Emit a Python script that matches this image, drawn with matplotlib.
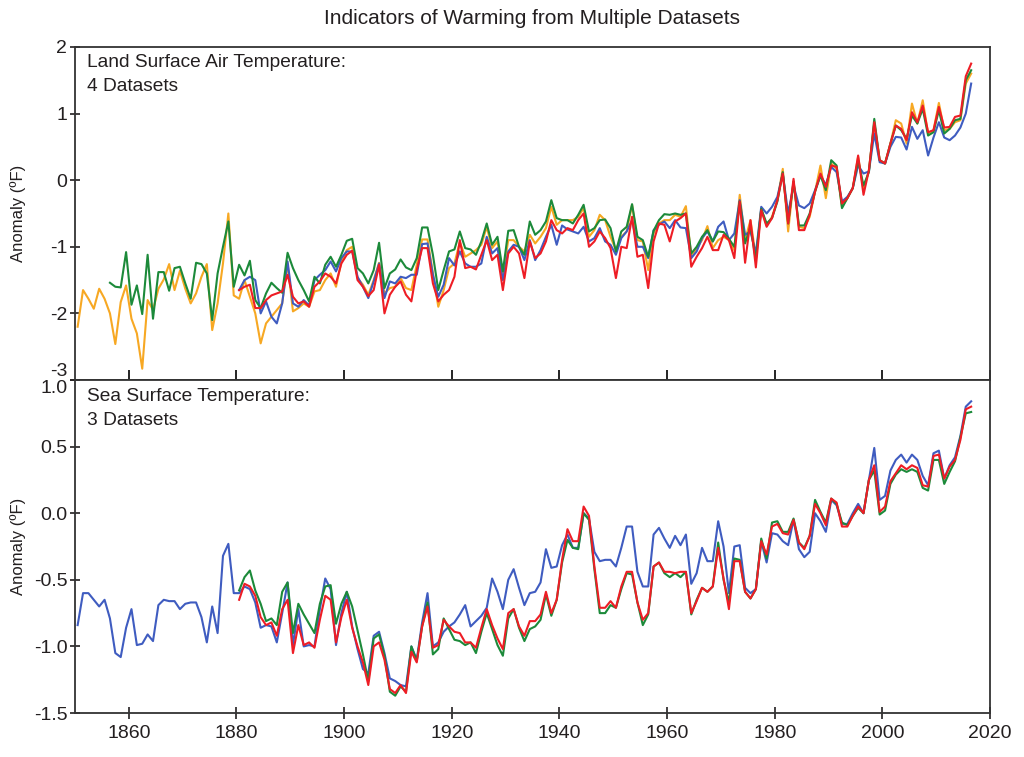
import numpy as np
from matplotlib import pyplot as plt

plt.rcParams['font.family'] = ['Liberation Sans', 'DejaVu Sans']
plt.rcParams['axes.unicode_minus'] = False

# ---- Land surface air temperature anomalies (deg F), 4 datasets ----
land_orange_start = 1850
land_orange = [
    -2.2, -1.65, -1.78, -1.93, -1.63, -1.78, -2.0, -2.46, -1.83, -1.58,
    -2.08, -2.3, -2.83, -1.8, -1.95, -1.63, -1.49, -1.26, -1.65, -1.36,
    -1.63, -1.85, -1.7, -1.45, -1.26, -2.25, -1.85, -1.25, -0.5, -1.73,
    -1.78, -1.5, -1.75, -2.0, -2.45, -2.15, -2.05, -1.95, -1.85, -1.25,
    -1.97, -1.92, -1.85, -1.9, -1.67, -1.65, -1.5, -1.4, -1.6, -1.22,
    -1.05, -1.0, -1.47, -1.57, -1.72, -1.5, -1.24, -1.7, -1.62, -1.6,
    -1.47, -1.62, -1.65, -1.27, -0.89, -0.89, -1.4, -1.9, -1.65, -1.32,
    -1.25, -0.93, -1.15, -1.1, -1.05, -0.97, -0.7, -1.02, -0.92, -1.42,
    -0.9, -0.9, -1.0, -1.07, -0.82, -0.95, -0.85, -0.72, -0.4, -0.67,
    -0.6, -0.6, -0.6, -0.55, -0.42, -0.85, -0.75, -0.52, -0.6, -0.85,
    -1.05, -0.85, -0.77, -0.37, -0.9, -0.92, -1.35, -0.8, -0.65, -0.6,
    -0.6, -0.52, -0.55, -0.39, -1.15, -1.02, -0.9, -0.69, -1.02, -0.9,
    -0.85, -0.9, -1.05, -0.22, -0.9, -0.6, -1.15, -0.43, -0.68, -0.55,
    -0.3, 0.17, -0.77, -0.02, -0.7, -0.72, -0.55, -0.17, 0.22, -0.27,
    0.25, 0.17, -0.4, -0.27, -0.12, 0.35, -0.15, 0.15, 0.85, 0.3,
    0.25, 0.55, 0.9, 0.85, 0.55, 1.15, 0.85, 1.2, 0.7, 0.75,
    1.16, 0.75, 0.77, 0.87, 0.9, 1.45, 1.6]

land_green_start = 1856
land_green = [
    -1.54, -1.6, -1.61, -1.08, -1.87, -1.58, -2.01, -1.12, -2.08, -1.38,
    -1.38, -1.66, -1.32, -1.3, -1.55, -1.78, -1.24, -1.26, -1.4, -2.1,
    -1.4, -1.0, -0.62, -1.6,
    -1.27, -1.43, -1.21, -1.8, -1.92, -1.7, -1.54, -1.62, -1.69, -1.09,
    -1.32, -1.5, -1.65, -1.82, -1.45, -1.55, -1.27, -1.15, -1.3, -1.12,
    -0.91, -0.88, -1.32, -1.4, -1.55, -1.35, -0.94, -1.62, -1.4, -1.34,
    -1.19, -1.31, -1.35, -1.17, -0.71, -0.71, -1.12, -1.65, -1.35, -1.07,
    -1.04, -0.77, -1.02, -1.04, -1.12, -0.92, -0.65, -0.97, -0.85, -1.37,
    -0.76, -0.75, -1.0, -1.12, -0.62, -0.82, -0.75, -0.62, -0.3, -0.57,
    -0.6, -0.6, -0.65, -0.52, -0.37, -0.77, -0.72, -0.6, -0.59, -0.72,
    -1.07, -0.77, -0.7, -0.36, -0.85, -0.9, -1.15, -0.76, -0.6, -0.51,
    -0.52, -0.5, -0.52, -0.5, -1.1, -1.0, -0.85, -0.75, -0.92, -0.77,
    -0.78, -0.88, -1.0, -0.32, -0.95, -0.7, -1.2, -0.43, -0.65, -0.57,
    -0.32, 0.12, -0.65, -0.02, -0.68, -0.68, -0.5, -0.17, 0.07, -0.15,
    0.3, 0.22, -0.42, -0.27, -0.12, 0.3, -0.08, 0.12, 0.92, 0.3,
    0.25, 0.55, 0.82, 0.75, 0.62, 0.97, 0.85, 1.07, 0.67, 0.72,
    1.05, 0.7, 0.77, 0.9, 0.92, 1.5, 1.65]

land_blue_start = 1880
land_blue = [
    -1.65, -1.5, -1.45, -1.5, -2.0, -1.82, -2.05, -2.15, -1.85, -1.22,
    -1.85, -1.9, -1.8, -1.88, -1.5, -1.42, -1.35, -1.22, -1.37, -1.17,
    -1.07, -1.07, -1.45, -1.6, -1.77, -1.52, -1.25, -1.77, -1.52, -1.55,
    -1.45, -1.47, -1.42, -1.42, -0.96, -0.95, -1.42, -1.75, -1.57, -1.17,
    -1.28, -1.07, -1.25, -1.3, -1.3, -1.25, -0.85, -1.1, -1.02, -1.5,
    -1.07, -0.97, -1.0, -1.2, -0.9, -1.2, -1.05, -0.85, -0.67, -0.97,
    -0.68, -0.74, -0.77, -0.8, -0.7, -0.92, -0.87, -0.72, -0.92, -0.97,
    -1.12, -0.87, -0.77, -0.6, -1.0, -1.0, -1.17, -0.75, -0.67, -0.62,
    -0.72, -0.6, -0.71, -0.72, -1.17, -1.07, -0.87, -0.77, -0.92, -0.7,
    -0.62, -0.9, -0.8, -0.3, -0.82, -0.77, -1.1, -0.4, -0.5, -0.4,
    -0.25, 0.1, -0.5, -0.08, -0.38, -0.42, -0.35, -0.15, 0.07, -0.07,
    0.2, 0.12, -0.32, -0.25, -0.12, 0.22, 0.1, 0.13, 0.7, 0.27,
    0.25, 0.5, 0.65, 0.64, 0.46, 0.8, 0.62, 0.75, 0.37, 0.64,
    0.87, 0.64, 0.6, 0.67, 0.79, 1.0, 1.45]

land_red_start = 1880
land_red = [
    -1.65, -1.6, -1.57, -1.92, -1.92, -1.8, -1.73, -1.7, -1.67, -1.42,
    -1.75, -1.85, -1.82, -1.9, -1.6, -1.52, -1.4, -1.45, -1.55, -1.25,
    -1.12, -1.06, -1.5, -1.6, -1.74, -1.65, -1.27, -2.0, -1.72, -1.6,
    -1.52, -1.72, -1.82, -1.35, -1.02, -1.02, -1.55, -1.82, -1.72, -1.65,
    -1.45, -0.9, -1.32, -1.3, -1.34, -1.12, -0.9, -1.2, -1.12, -1.65,
    -1.1, -1.0, -1.1, -1.47, -0.92, -1.17, -1.1, -0.92, -0.6, -0.75,
    -0.8, -0.72, -0.75, -0.6, -0.5, -1.0, -0.92, -0.77, -0.87, -1.02,
    -1.47, -1.0, -1.02, -0.55, -1.15, -1.12, -1.62, -0.92, -0.65, -0.67,
    -0.92, -0.62, -0.57, -0.5, -1.3, -1.15, -1.02, -0.85, -1.05, -1.05,
    -0.82, -0.9, -1.17, -0.32, -1.24, -0.6, -1.31, -0.45, -0.7, -0.57,
    -0.3, 0.1, -0.65, 0.02, -0.75, -0.75, -0.52, -0.17, 0.1, -0.1,
    0.22, 0.2, -0.35, -0.27, -0.12, 0.37, -0.22, 0.15, 0.87, 0.3,
    0.25, 0.55, 0.82, 0.77, 0.6, 1.02, 0.87, 1.12, 0.72, 0.75,
    1.1, 0.79, 0.8, 0.95, 0.97, 1.56, 1.75]

# ---- Sea surface temperature anomalies (deg F), 3 datasets ----
sea_blue_start = 1850
sea_blue = [
    -0.84, -0.6, -0.6, -0.65, -0.7, -0.65, -0.79, -1.05, -1.08, -0.86,
    -0.72, -0.99, -0.98, -0.91, -0.96, -0.69, -0.65, -0.66, -0.66, -0.72,
    -0.68, -0.67, -0.67, -0.78, -0.97, -0.7, -0.9, -0.32, -0.23, -0.6,
    -0.6, -0.55, -0.57, -0.67, -0.86, -0.84, -0.85, -0.97, -0.75, -0.52,
    -0.99, -0.72, -1.0, -0.99, -1.0, -0.72, -0.49, -0.57, -0.99, -0.75,
    -0.59, -0.85, -1.02, -1.17, -1.2, -0.92, -0.89, -1.05, -1.24, -1.26,
    -1.29, -1.3, -1.0, -1.1, -0.82, -0.6, -1.0, -0.97, -0.89, -0.85,
    -0.82, -0.76, -0.69, -0.85, -0.81, -0.77, -0.71, -0.49, -0.59, -0.72,
    -0.5, -0.42, -0.56, -0.69, -0.6, -0.59, -0.52, -0.27, -0.41, -0.4,
    -0.24, -0.16, -0.26, -0.26, 0.0, -0.04, -0.29, -0.36, -0.35, -0.35,
    -0.4, -0.26, -0.1, -0.1, -0.44, -0.55, -0.55, -0.16, -0.11, -0.19,
    -0.26, -0.17, -0.24, -0.16, -0.53, -0.45, -0.26, -0.36, -0.36, -0.06,
    -0.25, -0.6, -0.25, -0.24, -0.56, -0.6, -0.57, -0.21, -0.37, -0.15,
    -0.16, -0.21, -0.24, -0.05, -0.27, -0.33, -0.29, 0.0, -0.06, -0.14,
    0.1, 0.06, -0.08, -0.08, 0.0, 0.07, 0.0, 0.25, 0.49, 0.1,
    0.13, 0.32, 0.4, 0.44, 0.38, 0.44, 0.4, 0.28, 0.21, 0.45,
    0.47, 0.26, 0.36, 0.42, 0.58, 0.8, 0.84]

sea_green_start = 1880
sea_green = [
    -0.58, -0.48, -0.43, -0.58, -0.68, -0.81, -0.79, -0.84, -0.59, -0.52,
    -0.9, -0.68, -0.76, -0.83, -0.9, -0.68, -0.55, -0.54, -0.83, -0.68,
    -0.59, -0.7, -0.88, -1.06, -1.26, -0.94, -0.91, -1.07, -1.34, -1.37,
    -1.3, -1.34, -1.0, -1.11, -0.85, -0.67, -1.06, -1.02, -0.79, -0.87,
    -0.95, -0.96, -0.99, -0.97, -1.05, -0.89, -0.75, -0.87, -0.99, -1.07,
    -0.79, -0.72, -0.86, -0.96, -0.87, -0.85, -0.8, -0.61, -0.77, -0.65,
    -0.37, -0.2, -0.26, -0.27, 0.0, -0.05, -0.42, -0.75, -0.75, -0.69,
    -0.71, -0.57, -0.45, -0.46, -0.67, -0.84, -0.76, -0.4, -0.37, -0.45,
    -0.48, -0.45, -0.48, -0.44, -0.76, -0.65, -0.56, -0.59, -0.55, -0.22,
    -0.5, -0.67, -0.34, -0.35, -0.59, -0.64, -0.57, -0.19, -0.34, -0.07,
    -0.06, -0.14, -0.14, -0.04, -0.22, -0.26, -0.17, 0.1, 0.01, -0.07,
    0.11, 0.07, -0.07, -0.09, -0.02, 0.04, 0.0, 0.25, 0.32, -0.01,
    0.02, 0.22, 0.29, 0.33, 0.31, 0.33, 0.31, 0.19, 0.17, 0.4,
    0.4, 0.22, 0.31, 0.39, 0.57, 0.75, 0.76]

sea_red_start = 1880
sea_red = [
    -0.65, -0.53, -0.55, -0.62, -0.78, -0.84, -0.82, -0.92, -0.72, -0.65,
    -1.05, -0.84, -0.99, -0.97, -1.01, -0.8, -0.62, -0.65, -0.97, -0.78,
    -0.65, -0.86, -1.0, -1.12, -1.29, -1.0, -0.97, -1.1, -1.32, -1.35,
    -1.29, -1.35, -1.04, -1.12, -0.85, -0.7, -1.01, -0.99, -0.8, -0.85,
    -0.89, -0.9, -0.97, -0.97, -1.01, -0.86, -0.72, -0.84, -0.94, -1.02,
    -0.75, -0.72, -0.85, -0.92, -0.81, -0.81, -0.76, -0.59, -0.75, -0.65,
    -0.35, -0.12, -0.21, -0.21, 0.05, -0.02, -0.4, -0.71, -0.71, -0.66,
    -0.71, -0.55, -0.44, -0.44, -0.67, -0.8, -0.75, -0.4, -0.37, -0.44,
    -0.44, -0.45, -0.44, -0.44, -0.75, -0.66, -0.56, -0.59, -0.55, -0.26,
    -0.49, -0.72, -0.36, -0.36, -0.59, -0.64, -0.57, -0.21, -0.31, -0.1,
    -0.08, -0.15, -0.16, -0.05, -0.22, -0.27, -0.17, 0.07, 0.0, -0.09,
    0.11, 0.08, -0.1, -0.1, -0.02, 0.05, 0.0, 0.25, 0.36, 0.01,
    0.05, 0.24, 0.3, 0.36, 0.33, 0.36, 0.34, 0.21, 0.2, 0.43,
    0.44, 0.26, 0.35, 0.4, 0.55, 0.78, 0.8]

ORANGE = '#f7a823'
GREEN = '#1c8a3a'
BLUE = '#3f5cc0'
RED = '#ee1d25'
TXT = '#231f20'


def years(start, vals):
    # annual values plotted at mid-year
    return np.arange(start, start + len(vals)) + 0.5


fig = plt.figure(figsize=(10.24, 7.57), dpi=100)
ax1 = fig.add_axes([0.0732, 0.498, 0.8936, 0.440])
ax2 = fig.add_axes([0.0732, 0.0581, 0.8936, 0.4399])

lw = 1.5
ax1.plot(years(land_orange_start, land_orange), land_orange, color=ORANGE, lw=lw)
ax1.plot(years(land_blue_start, land_blue), land_blue, color=BLUE, lw=lw)
ax1.plot(years(land_green_start, land_green), land_green, color=GREEN, lw=lw)
ax1.plot(years(land_red_start, land_red), land_red, color=RED, lw=lw)

ax2.plot(years(sea_blue_start, sea_blue), sea_blue, color=BLUE, lw=lw)
ax2.plot(years(sea_green_start, sea_green), sea_green, color=GREEN, lw=lw)
ax2.plot(years(sea_red_start, sea_red), sea_red, color=RED, lw=lw)

for ax in (ax1, ax2):
    ax.set_xlim(1850, 2020)
    ax.set_xticks(np.arange(1860, 2021, 20))
    for s in ax.spines.values():
        s.set_color('#333333')
        s.set_linewidth(1.3)
    ax.tick_params(axis='y', direction='inout', length=7, width=1.2,
                   labelsize=14, colors=TXT, pad=2)
    ax.set_ylabel('Anomaly (ºF)', fontsize=12, color=TXT)
    ax.yaxis.set_label_coords(-0.054, 0.5)

ax1.set_ylim(-3, 2)
ax1.set_yticks([-3, -2, -1, 0, 1, 2])
ax1.tick_params(axis='x', direction='in', length=7, width=1.2, labelbottom=False)

ax2.set_ylim(-1.5, 1.0)
ax2.set_yticks([-1.5, -1.0, -0.5, 0.0, 0.5, 1.0])
ax2.set_yticklabels(['%.1f' % v for v in [-1.5, -1.0, -0.5, 0.0, 0.5, 1.0]])
ax2.tick_params(axis='x', direction='inout', length=9, width=1.2,
                labelsize=14, colors=TXT, pad=4)

# keep the labels at the shared edge apart
ax1.get_yticklabels()[0].set_va('bottom')
ax2.get_yticklabels()[-1].set_va('top')

ax1.text(0.013, 0.978, 'Land Surface Air Temperature:\n4 Datasets',
         transform=ax1.transAxes, va='top', ha='left', fontsize=13.8,
         color=TXT, linespacing=1.5)
ax2.text(0.013, 0.975, 'Sea Surface Temperature:\n3 Datasets',
         transform=ax2.transAxes, va='top', ha='left', fontsize=13.8,
         color=TXT, linespacing=1.5)

fig.text(0.52, 0.976, 'Indicators of Warming from Multiple Datasets',
         ha='center', va='center', fontsize=15, color=TXT)

fig.savefig('out.png', dpi=100)
